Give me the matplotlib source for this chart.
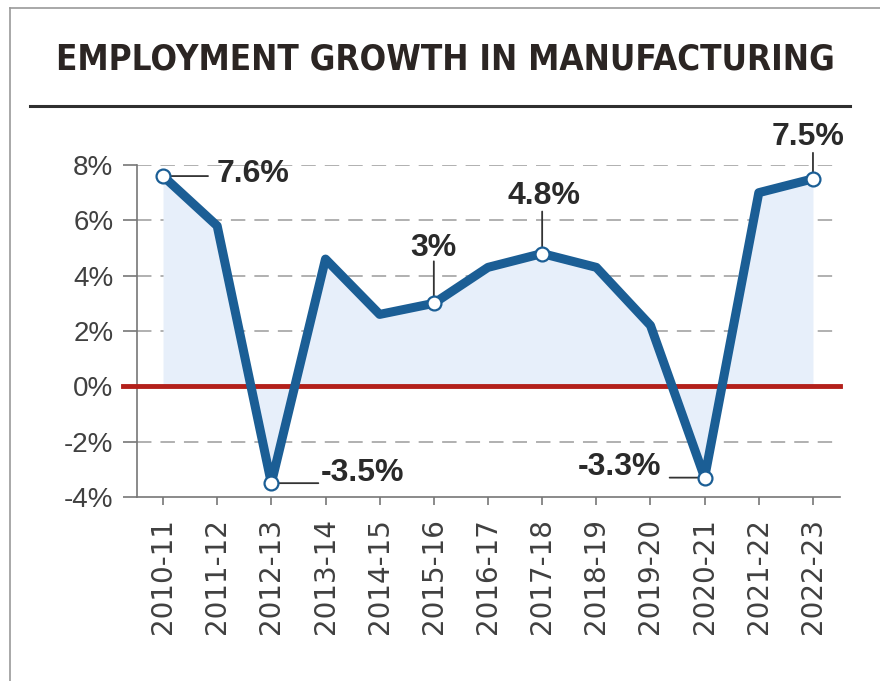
import matplotlib
matplotlib.use('Agg')
import matplotlib.pyplot as plt
from matplotlib.lines import Line2D

years = ['2010-11', '2011-12', '2012-13', '2013-14', '2014-15', '2015-16', '2016-17',
         '2017-18', '2018-19', '2019-20', '2020-21', '2021-22', '2022-23']
growth = [7.6, 5.8, -3.5, 4.6, 2.6, 3.0, 4.3, 4.8, 4.3, 2.2, -3.3, 7.0, 7.5]
y_ticks = [-4, -2, 0, 2, 4, 6, 8]

# labelled points: index, text
labelled = [0, 2, 5, 7, 10, 12]
label_text = ['7.6%', '-3.5%', '3%', '4.8%', '-3.3%', '7.5%']

body_font = 'Liberation Sans'

BLUE = '#1b5e95'
FILL = '#e7effa'
RED = '#b3201b'
DARK = '#2b2523'

fig = plt.figure(figsize=(8.8, 6.81), dpi=100)
ax = fig.add_axes([0.1557, 0.2702, 0.7989, 0.4875])

x = list(range(len(years)))
ax.fill_between(x, growth, 0, color=FILL, lw=0, zorder=1)
ax.plot(x, growth, color=BLUE, lw=6.5, solid_joinstyle='round', zorder=4)
ax.axhline(0, xmin=-14 / 703, xmax=1, color=RED, lw=3.5, clip_on=False, zorder=3)

lx = [x[i] for i in labelled]
ly = [growth[i] for i in labelled]
ax.plot(lx, ly, 'o', ms=10, mfc='white', mec=BLUE, mew=1.6, zorder=6)

# leader end offset (px) and text offset (px), alignment
leaders = [(45, 0), (47, 0), (0, 42), (0, 42), (-35, 0), (0, 26)]
text_off = [(54, 2), (49, 10), (0, 47), (2, 50), (-43, 11), (-5, 34)]
aligns = [('left', 'center'), ('left', 'center'), ('center', 'baseline'),
          ('center', 'baseline'), ('right', 'center'), ('center', 'baseline')]

for k in range(len(labelled)):
    ax.annotate('', xy=(lx[k], ly[k]), xytext=leaders[k], textcoords='offset pixels',
                arrowprops=dict(arrowstyle='-', color='#333333', lw=1.3,
                                shrinkA=0, shrinkB=5),
                annotation_clip=False, zorder=5)
    ax.annotate(label_text[k], xy=(lx[k], ly[k]), xytext=text_off[k],
                textcoords='offset pixels', ha=aligns[k][0], va=aligns[k][1],
                fontsize=23, fontweight='bold', color='#2a2a2a', family=body_font,
                annotation_clip=False, zorder=7)

ax.set_xlim(-0.48, 12.5)
ax.set_ylim(-4, 8)
ax.set_yticks(y_ticks)
ax.set_yticklabels([f'{v}%' for v in y_ticks], family=body_font, fontsize=20, color='#404040')
ax.set_xticks(x)
ax.set_xticklabels(years, rotation=90, family='DejaVu Sans', fontsize=20, color='#404040')
ax.tick_params(axis='y', length=10, width=1.2, color='#777777', pad=7)
ax.tick_params(axis='x', length=6, width=1.2, color='#777777', pad=9)

for g in [v for v in y_ticks if v not in (0, -4)]:
    ax.axhline(g, color='#aaaaaa', lw=1.3, ls=(0, (8, 5)), zorder=0)

for s in ['top', 'right']:
    ax.spines[s].set_visible(False)
ax.spines['left'].set_color('#777777')
ax.spines['bottom'].set_color('#777777')
ax.spines['left'].set_linewidth(1.2)
ax.spines['bottom'].set_linewidth(1.2)

title = fig.text(0.506, 0.912, 'EMPLOYMENT GROWTH IN MANUFACTURING', ha='center', va='center',
                 fontsize=34, fontweight='heavy', fontstretch='condensed', color=DARK,
                 family='DejaVu Sans')
# shrink the title until it fits the width of the rule
fig.canvas.draw()
w = title.get_window_extent().width
title.set_fontsize(34 * 780 / w)

fig.add_artist(Line2D([30 / 880, 850 / 880], [1 - 106 / 681] * 2, color='#2f2f2f', lw=2.2))

# page border on the left and top
fig.add_artist(Line2D([10 / 880, 10 / 880], [0, 1 - 8 / 681], color='#9a9a9a', lw=1.2))
fig.add_artist(Line2D([10 / 880, 1], [1 - 8 / 681] * 2, color='#9a9a9a', lw=1.2))

fig.savefig('out.png', dpi=100)
